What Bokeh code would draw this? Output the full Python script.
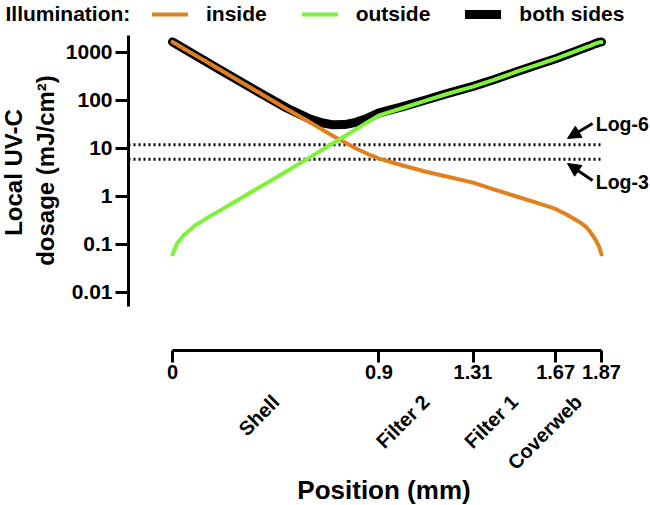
import math
from bokeh.plotting import figure
from bokeh.models import (Range1d, FixedTicker, LinearAxis, CustomJSTickFormatter,
                          Legend, LegendItem, Label, Arrow, NormalHead)
from bokeh.embed import file_html
from bokeh.resources import INLINE

# ---------------- data ----------------
position_mm = [0, 0.02, 0.05, 0.1, 0.15, 0.2, 0.3, 0.4, 0.5, 0.6, 0.65, 0.7, 0.75, 0.8, 0.85,
               0.9, 1.0, 1.1, 1.2, 1.31, 1.4, 1.5, 1.6, 1.67, 1.72, 1.77, 1.8, 1.82, 1.84,
               1.86, 1.87]
inside = [1660, 1462, 1202, 871, 631, 457, 240, 126, 66, 34.7, 25.1, 18.2, 13.5, 10.0, 7.76,
          6.17, 4.47, 3.31, 2.57, 1.95, 1.41, 1.0, 0.71, 0.55, 0.417, 0.302, 0.24, 0.186, 0.135,
          0.089, 0.062]
outside = [0.062, 0.105, 0.158, 0.251, 0.355, 0.49, 0.93, 1.78, 3.39, 6.6, 9.2, 12.9, 18.0, 25.1,
           35.1, 49, 69, 98, 138, 195, 269, 398, 575, 741, 912, 1122, 1274, 1380, 1514,
           1622, 1660]
both_sides = [1660, 1462, 1202, 871, 631, 457, 241, 128, 69, 41, 34.3, 31.1, 31.5, 35.1, 42.9,
              55, 73.5, 101, 141, 197, 270, 399, 576, 742, 912, 1122, 1274, 1380, 1514,
              1622, 1660]

x_ticks = [0, 0.9, 1.31, 1.67, 1.87]
layer_names = ["Shell", "Filter 2", "Filter 1", "Coverweb"]
y_ticks = [0.01, 0.1, 1, 10, 100, 1000]
thresholds = [12, 6]
threshold_names = ["Log-6", "Log-3"]
series_names = ["inside", "outside", "both sides"]

FONT = "Liberation Sans"
ORANGE = "#E2801F"
GREEN = "#7FF23A"
W, H = 650, 505

# The frame covers the whole canvas; axes sit at fixed locations inside it.
p = figure(width=W, height=H, title=None,
           x_range=Range1d(-0.7498, 2.0837),
           y_range=Range1d(10 ** -6.4375, 10 ** 4.0833),
           y_axis_type="log", output_backend="svg", toolbar_location=None,
           min_border=0)
p.outline_line_color = None
p.xgrid.grid_line_color = None
p.ygrid.grid_line_color = None

Y_AXIS_AT = -0.1918          # x data value where the y axis stands
X_AXIS_AT = 10 ** -3.2083    # y data value where the x axis stands
CAT_AXIS_AT = 10 ** -4.104   # y data value of the layer-name row

p.segment(x0=[Y_AXIS_AT] * len(thresholds), x1=[x_ticks[-1]] * len(thresholds),
          y0=thresholds, y1=thresholds, line_color="black", line_width=3,
          line_dash="2 3")

r_both = p.line(position_mm, both_sides, line_color="black", line_width=9, line_cap="round", line_join="round")
r_in = p.line(position_mm, inside, line_color=ORANGE, line_width=4, line_cap="round", line_join="round")
r_out = p.line(position_mm, outside, line_color=GREEN, line_width=4, line_cap="round", line_join="round")

yax = p.yaxis[0]
yax.fixed_location = Y_AXIS_AT
yax.ticker = FixedTicker(ticks=y_ticks, minor_ticks=[])
yax.formatter = CustomJSTickFormatter(code="return tick.toString();")
yax.bounds = (10 ** -2.2917, 10 ** 3.354)

xax = p.xaxis[0]
xax.fixed_location = X_AXIS_AT
xax.ticker = FixedTicker(ticks=x_ticks, minor_ticks=[])
xax.formatter = CustomJSTickFormatter(code="return tick.toString();")
xax.bounds = (x_ticks[0], x_ticks[-1])

for ax, size, out, stand in [(yax, "21px", 13, 3), (xax, "20px", 12, 3)]:
    ax.axis_line_width = 3
    ax.axis_line_color = "black"
    ax.major_tick_line_width = 3
    ax.major_tick_line_color = "black"
    ax.major_tick_in = 0
    ax.major_tick_out = out
    ax.minor_tick_line_color = None
    ax.major_label_standoff = stand
    ax.major_label_text_font = FONT
    ax.major_label_text_font_style = "bold"
    ax.major_label_text_font_size = size
    ax.major_label_text_color = "black"

mids = [(x_ticks[i] + x_ticks[i + 1]) / 2 for i in range(len(layer_names))]
ax2 = LinearAxis(ticker=FixedTicker(ticks=mids, minor_ticks=[]),
                 formatter=CustomJSTickFormatter(args=dict(names=layer_names),
                                                 code="return names[index];"),
                 fixed_location=CAT_AXIS_AT,
                 axis_line_color=None, major_tick_line_color=None,
                 minor_tick_line_color=None, major_tick_in=0, major_tick_out=0,
                 major_label_orientation=math.pi / 4, major_label_standoff=5,
                 major_label_text_font=FONT, major_label_text_font_style="bold",
                 major_label_text_font_size="20px", major_label_text_color="black")
p.add_layout(ax2, "below")


def lab(text, x, y, size, **kw):
    return Label(text=text, x=x, y=y, x_units="screen", y_units="screen",
                 text_font=FONT, text_font_style="bold", text_font_size=size,
                 text_color="black", **kw)


# axis titles (screen units measured from the bottom-left corner)
p.add_layout(lab("Position (mm)", 383.5, H - 474, "26px", text_align="center", text_baseline="top"))
p.add_layout(lab("Local UV-C", 13, H - 172, "24px", angle=math.pi / 2,
                 text_align="center", text_baseline="middle"))
p.add_layout(lab("dosage (mJ/cm²)", 45, H - 170, "24px", angle=math.pi / 2,
                 text_align="center", text_baseline="middle"))

# threshold annotations
arrow_tip_x, arrow_tail_x, text_x = 1.722, 1.831, 1.845
arrow_tips_y = [16.2, 4.87]
arrow_tails_y = [33.2, 2.15]
text_y = [33, 2.05]
for name, ty, ay0, ay1 in zip(threshold_names, text_y, arrow_tails_y, arrow_tips_y):
    p.add_layout(Arrow(end=NormalHead(size=13, fill_color="black", line_color="black", line_width=1),
                       x_start=arrow_tail_x, y_start=ay0, x_end=arrow_tip_x, y_end=ay1,
                       line_width=3, line_color="black"))
    p.add_layout(Label(text=name, x=text_x, y=ty, text_font=FONT, text_font_style="bold",
                       text_font_size="19.5px", text_color="black",
                       text_align="left", text_baseline="middle"))

# legend row
legend = Legend(items=[LegendItem(label=n, renderers=[r]) for n, r in
                       zip(series_names, [r_in, r_out, r_both])],
                orientation="horizontal", location=(152, H - 26), padding=0, margin=0,
                border_line_color=None, background_fill_alpha=0,
                glyph_width=36, glyph_height=20, label_standoff=18, spacing=35,
                label_text_font=FONT, label_text_font_style="bold",
                label_text_font_size="21px", label_text_color="black")
p.add_layout(legend)
p.add_layout(lab("Illumination:", 5, H - 13, "21px", text_align="left", text_baseline="middle"))

open("out.html", "w").write(file_html(p, INLINE))
